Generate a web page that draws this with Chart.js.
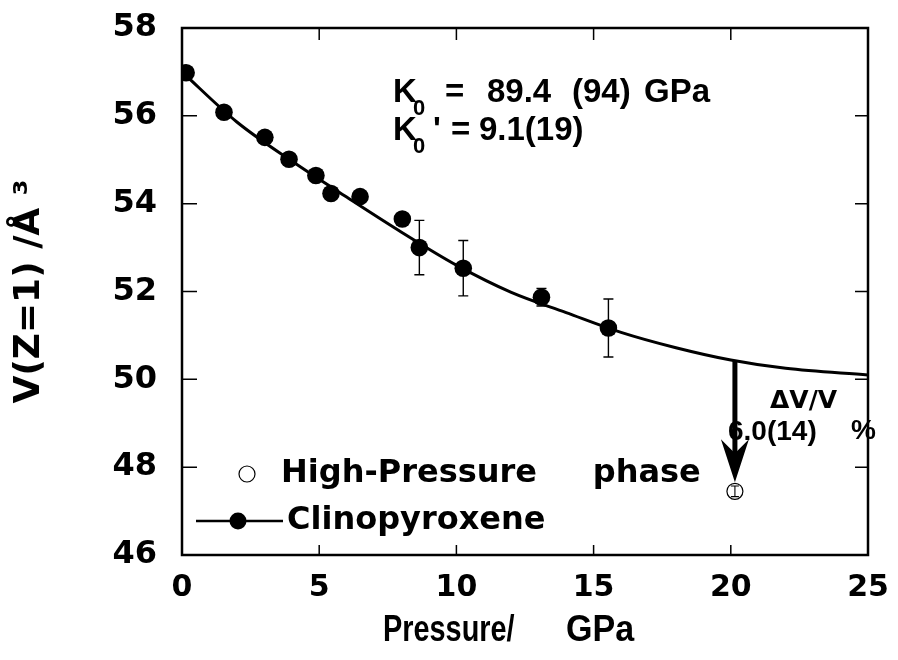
<!DOCTYPE html>
<html>
<head>
<meta charset="utf-8">
<script src="https://cdn.jsdelivr.net/npm/chart.js@4.4.1/dist/chart.umd.min.js"></script>
<style>
  html, body { margin: 0; padding: 0; background: #fff; }
  #wrap { width: 898px; height: 660px; }
</style>
</head>
<body>
<div id="wrap"><canvas id="eos" width="898" height="660"></canvas></div>
<script>
// Clinopyroxene compression data
const cpxPressure = [0.15, 1.53, 3.02, 3.90, 4.88, 5.43, 6.49, 8.03, 8.65, 10.25, 13.10, 15.54];
const cpxVolume   = [56.98, 56.08, 55.51, 55.01, 54.64, 54.23, 54.16, 53.65, 53.00, 52.53, 51.87, 51.17];
const cpxError    = [0, 0, 0, 0, 0, 0, 0, 0, 0.62, 0.63, 0.20, 0.66];

// High-pressure phase
const hpPressure = [20.15];
const hpVolume   = [47.45];
const hpError    = [0.12];

// Fitted EOS curve
const fitPressure = [0, 2, 4, 6, 8, 10, 12, 14, 16, 18, 20, 22, 25];
const fitVolume   = [57.00, 55.86, 54.97, 54.15, 53.35, 52.60, 51.98, 51.52, 51.07, 50.72, 50.44, 50.25, 50.10];

// Axes
const xTicks = [0, 5, 10, 15, 20, 25];
const yTicks = [46, 48, 50, 52, 54, 56, 58];
const xTitle = ['Pressure/', 'GPa'];

// volume drop marked by the arrow
const arrowPressure = 20.15;
const arrowTopVolume = 50.43;

const toPoints = (xs, ys) => xs.map((x, i) => ({ x: x, y: ys[i] }));

const BOLD_WIDE = "'DejaVu Sans', sans-serif";
const BOLD_ARIAL = "'Liberation Sans', Arial, sans-serif";

const decorations = {
    id: 'decorations',
    afterDraw(chart) {
        const ctx = chart.ctx;
        const xs = chart.scales.x;
        const ys = chart.scales.y;
        const area = chart.chartArea;
        ctx.save();
        ctx.strokeStyle = '#000';
        ctx.fillStyle = '#000';

        // frame
        ctx.lineWidth = 2.5;
        ctx.strokeRect(area.left, area.top, area.right - area.left, area.bottom - area.top);

        // inward ticks on all four sides
        ctx.lineWidth = 1.5;
        ctx.beginPath();
        xTicks.slice(1, -1).forEach(v => {
            const px = xs.getPixelForValue(v);
            ctx.moveTo(px, area.bottom); ctx.lineTo(px, area.bottom - 10);
            ctx.moveTo(px, area.top); ctx.lineTo(px, area.top + 12);
        });
        yTicks.slice(1, -1).forEach(v => {
            const py = ys.getPixelForValue(v);
            ctx.moveTo(area.left, py); ctx.lineTo(area.left + 15, py);
            ctx.moveTo(area.right, py); ctx.lineTo(area.right - 13, py);
        });
        ctx.stroke();

        // error bars
        const drawErr = (px, v, e, cap) => {
            if (!e) return;
            const top = ys.getPixelForValue(v + e);
            const bot = ys.getPixelForValue(v - e);
            ctx.beginPath();
            ctx.moveTo(px, top); ctx.lineTo(px, bot);
            ctx.moveTo(px - cap, top); ctx.lineTo(px + cap, top);
            ctx.moveTo(px - cap, bot); ctx.lineTo(px + cap, bot);
            ctx.stroke();
        };
        ctx.lineWidth = 1.4;
        cpxPressure.forEach((p, i) => drawErr(xs.getPixelForValue(p), cpxVolume[i], cpxError[i], 5));
        ctx.lineWidth = 1.1;
        hpPressure.forEach((p, i) => drawErr(xs.getPixelForValue(p), hpVolume[i], hpError[i], 4));

        // fit parameters
        ctx.textBaseline = 'alphabetic';
        ctx.textAlign = 'left';
        ctx.font = 'bold 33px ' + BOLD_ARIAL;
        ctx.fillText('K', 393, 102);
        ctx.fillText('=', 445, 102);
        ctx.fillText('89.4', 487, 102);
        ctx.fillText('(94)', 572, 102);
        ctx.fillText('GPa', 644, 102);
        ctx.fillText('K', 393, 140);
        ctx.fillText("'", 433, 140);
        ctx.fillText('=', 451, 140);
        ctx.fillText('9.1(19)', 479, 140);
        ctx.font = 'bold 22px ' + BOLD_ARIAL;
        ctx.fillText('0', 413, 115);
        ctx.fillText('0', 413, 153);

        // volume change label
        ctx.font = 'bold 25px ' + BOLD_WIDE;
        ctx.fillText('\u0394V/V', 770, 408);
        ctx.font = 'bold 28px ' + BOLD_ARIAL;
        ctx.fillText('6.0(14)', 728, 440);
        ctx.fillText('%', 851, 439);

        // arrow from the fit curve down to the high-pressure point
        const ax = xs.getPixelForValue(arrowPressure);
        const ay0 = ys.getPixelForValue(arrowTopVolume);
        const tip = ys.getPixelForValue(hpVolume[0]) - 9;
        ctx.lineWidth = 5;
        ctx.beginPath();
        ctx.moveTo(ax, ay0); ctx.lineTo(ax, tip - 20);
        ctx.stroke();
        ctx.beginPath();
        ctx.moveTo(ax, tip);
        ctx.lineTo(ax - 14, tip - 43);
        ctx.lineTo(ax, tip - 29);
        ctx.lineTo(ax + 14, tip - 43);
        ctx.closePath();
        ctx.fill();

        // x axis title, condensed bold
        ctx.font = 'bold 37px ' + BOLD_ARIAL;
        ctx.textBaseline = 'alphabetic';
        ctx.save();
        ctx.translate(383, 641);
        ctx.scale(0.78, 1);
        ctx.fillText(xTitle[0], 0, 0);
        ctx.restore();
        ctx.save();
        ctx.translate(566, 641);
        ctx.scale(0.92, 1);
        ctx.fillText(xTitle[1], 0, 0);
        ctx.restore();

        // legend
        const hp = chart.data.datasets[2];
        const cpx = chart.data.datasets[1];
        ctx.font = 'bold 32px ' + BOLD_WIDE;
        ctx.textBaseline = 'middle';
        ctx.lineWidth = 1.2;
        ctx.beginPath();
        ctx.arc(247, 474, 8, 0, Math.PI * 2);
        ctx.fillStyle = '#fff';
        ctx.fill();
        ctx.stroke();
        ctx.fillStyle = '#000';
        ctx.fillText(hp.label, 281, 474);

        ctx.lineWidth = 2.5;
        ctx.beginPath();
        ctx.moveTo(196, 521); ctx.lineTo(283, 521);
        ctx.stroke();
        ctx.beginPath();
        ctx.arc(238, 521, 8.5, 0, Math.PI * 2);
        ctx.fill();
        ctx.fillText(cpx.label, 287, 521);
        ctx.restore();
    }
};

new Chart(document.getElementById('eos'), {
    type: 'scatter',
    data: {
        datasets: [
            {
                label: 'fit',
                data: toPoints(fitPressure, fitVolume),
                showLine: true,
                borderColor: '#000',
                borderWidth: 3,
                pointRadius: 0,
                cubicInterpolationMode: 'monotone'
            },
            {
                label: 'Clinopyroxene',
                data: toPoints(cpxPressure, cpxVolume),
                pointRadius: 8.8,
                backgroundColor: '#000',
                borderColor: '#000',
                borderWidth: 0
            },
            {
                label: 'High-Pressure     phase',
                data: toPoints(hpPressure, hpVolume),
                pointRadius: 8,
                backgroundColor: '#fff',
                borderColor: '#000',
                borderWidth: 1.2
            }
        ]
    },
    options: {
        responsive: false,
        devicePixelRatio: 1,
        animation: false,
        layout: { padding: { top: 28, right: 30, left: 0, bottom: 0 } },
        plugins: {
            legend: { display: false },
            tooltip: { enabled: false }
        },
        scales: {
            x: {
                type: 'linear',
                min: 0,
                max: 25,
                afterBuildTicks: s => { s.ticks = xTicks.map(v => ({ value: v })); },
                afterFit: s => { s.height = 105; s.paddingLeft = 0; s.paddingRight = 0; },
                ticks: {
                    color: '#000',
                    padding: 15,
                    maxRotation: 0,
                    font: { family: BOLD_WIDE, size: 30, weight: 'bold' }
                },
                grid: { display: false, drawTicks: false },
                border: { display: false }
            },
            y: {
                min: 46,
                max: 58,
                afterBuildTicks: s => { s.ticks = yTicks.map(v => ({ value: v })); },
                afterFit: s => { s.width = 182; s.paddingTop = 0; s.paddingBottom = 0; },
                ticks: {
                    color: '#000',
                    padding: 25,
                    font: { family: BOLD_WIDE, size: 32, weight: 'bold' }
                },
                grid: { display: false, drawTicks: false },
                border: { display: false },
                title: {
                    display: true,
                    text: 'V(Z=1) /\u00c5 \u00b3',
                    color: '#000',
                    padding: { top: 8 },
                    font: { family: BOLD_WIDE, size: 36, weight: 'bold' }
                }
            }
        }
    },
    plugins: [decorations]
});
</script>
</body>
</html>
